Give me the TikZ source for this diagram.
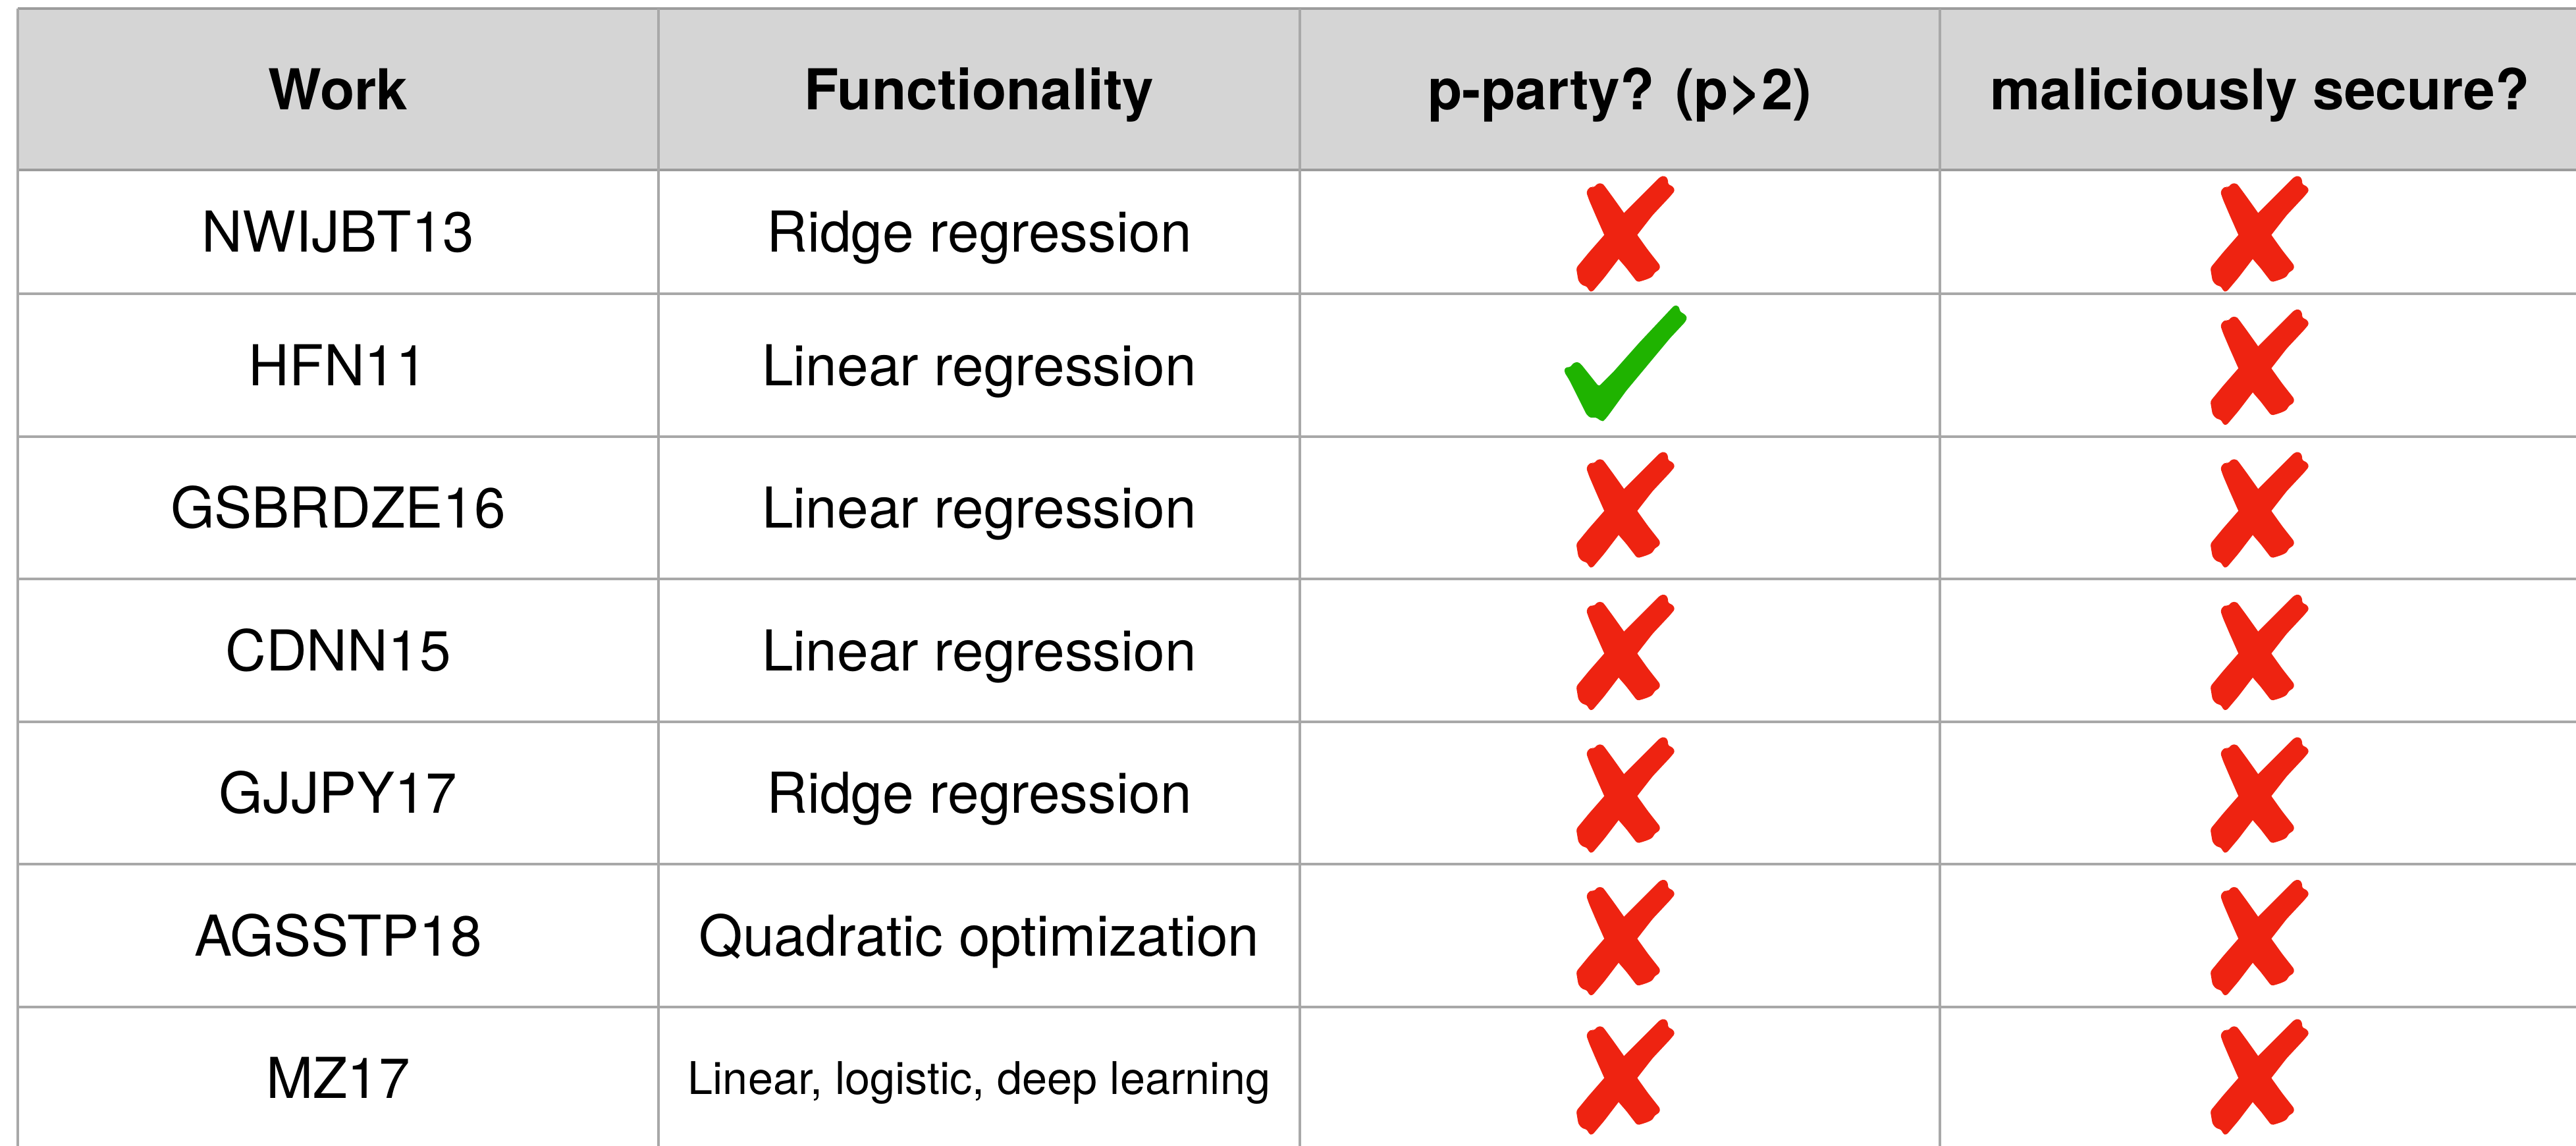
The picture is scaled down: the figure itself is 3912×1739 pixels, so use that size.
\documentclass[tikz,border=0pt]{standalone}
\usepackage{fontspec}
\setmainfont{TeX Gyre Heros}

\definecolor{gridline}{HTML}{A8A8A8}
\definecolor{headline}{HTML}{9C9C9C}
\definecolor{headfill}{HTML}{D5D5D5}
\definecolor{crossred}{HTML}{EE2311}
\definecolor{tickgreen}{HTML}{1FB300}

\tikzset{
  cell/.style={inner sep=0pt, text height=15.3pt, text depth=0pt,
    font=\fontsize{21.4pt}{24pt}\selectfont},
  headcell/.style={cell, font=\fontsize{21.4pt}{24pt}\selectfont\bfseries},
  smallcell/.style={inner sep=0pt, text height=12.25pt, text depth=0pt,
    font=\fontsize{17.1pt}{20pt}\selectfont},
  rule/.style={draw=gridline, line width=0.8pt},
  % hand-painted red cross, two brush strokes
  redx/.pic={
    \fill[crossred, rounded corners=0.8pt]
      (58.3,-83.7) -- (65,-85.3) -- (70,-80.3) -- (70,-72) -- (77.3,-69.3)
      -- (80.7,-62.7) -- (73.3,-53.7) -- (46.7,-25.3) -- (23.3,4.7)
      -- (-5,41.3) -- (-26.7,69.7) -- (-45,91.3) -- (-50,89.7) -- (-52.7,83)
      -- (-60,81.3) -- (-66,74.7) -- (-68.3,61.3) -- (-69.3,54.7)
      -- (-50,31.3) -- (-26.7,4.7) -- (3.3,-28.7) -- (33.3,-58.7) -- cycle;
    \fill[crossred, rounded corners=0.8pt]
      (-54,-60.3) -- (-50,-67) -- (-45,-68.7) -- (-42.7,-67) -- (-36.7,-73.7)
      -- (-30,-73.7) -- (-26.7,-70.3) -- (-13.3,-52) -- (3.3,-28.7)
      -- (23.3,4.7) -- (40,28) -- (58.3,51.3) -- (56.7,58) -- (50,61.3)
      -- (46.7,68) -- (40,71.3) -- (30,74.7) -- (23.3,76.3) -- (6.7,54.7)
      -- (-5,41.3) -- (-26.7,4.7) -- (-40,-25.3) -- (-50,-48.7) -- cycle;
  },
  % hand-painted green tick
  greentick/.pic={
    \fill[tickgreen, rounded corners=0.8pt]
      (-86.7,3.8) -- (-76.7,2.2) -- (-75,-2.8) -- (-66.7,-5.2) -- (-61.7,-1.2)
      -- (-35,32.2) -- (-13.3,10.5) -- (26.7,-34.5) -- (80,-91.2)
      -- (86.7,-89.5) -- (88.3,-81.2) -- (95,-77.8) -- (99.3,-72.8)
      -- (96.7,-66.2) -- (73.3,-41.2) -- (40,-1.2) -- (6.7,38.8)
      -- (-20,75.5) -- (-26.7,83.8) -- (-30,85.5) -- (-35,82.2)
      -- (-40,78.8) -- (-46.7,80.5) -- (-53.3,75.5) -- (-60,62.2)
      -- (-70,42.2) -- (-80,22.2) -- (-87.3,10.5) -- cycle;
  }
}

\begin{document}
\begin{tikzpicture}[x=0.25pt, y=-0.25pt]
  \useasboundingbox (0,0) rectangle (3912,1739);
  \clip (0,0) rectangle (3912,1739);

  % header band
  \fill[headfill] (27,13) rectangle (3930,258);

  % horizontal rules
  \draw[rule, draw=headline] (27,13) -- (3930,13);
  \draw[rule, draw=headline] (27,258) -- (3930,258);
  \foreach \y in {446,663,879,1096,1312,1529}
    \draw[rule] (27,\y) -- (3930,\y);

  % vertical rules
  \foreach \x in {27,1000,1974,2946}
    \draw[rule] (\x,13) -- (\x,1760);

  % header
  \node[headcell] (hWork) at (513.5,135.5) {Work};
  \node[headcell] (hFunc) at (1487,135.5) {Functionality};
  \node[headcell] (hParty) at (2460,135.5) {p-party? (p>2)};
  \node[headcell] (hMal) at (3432,135.5) {maliciously secure?};

  % first column
  \node[cell] (w1) at (513.5,352) {NWIJBT13};
  \node[cell] (w2) at (513.5,554.5) {HFN11};
  \node[cell] (w3) at (513.5,771) {GSBRDZE16};
  \node[cell] (w4) at (513.5,987.5) {CDNN15};
  \node[cell] (w5) at (513.5,1204) {GJJPY17};
  \node[cell] (w6) at (513.5,1420.5) {AGSSTP18};
  \node[cell] (w7) at (513.5,1637) {MZ17};

  % second column
  \node[cell] (f1) at (1487,352) {Ridge regression};
  \node[cell] (f2) at (1487,554.5) {Linear regression};
  \node[cell] (f3) at (1487,771) {Linear regression};
  \node[cell] (f4) at (1487,987.5) {Linear regression};
  \node[cell] (f5) at (1487,1204) {Ridge regression};
  \node[cell] (f6) at (1487,1420.5) {Quadratic optimization};
  \node[smallcell] (f7) at (1487,1637) {Linear, logistic, deep learning};

  % third column
  \pic at (2463,352) {redx};
  \pic at (2463,554.5) {greentick};
  \foreach \y in {771,987.5,1204,1420.5,1632}
    \pic at (2463,\y) {redx};

  % fourth column
  \foreach \y in {352,554.5,771,987.5,1204,1420.5,1632}
    \pic at (3426,\y) {redx};
\end{tikzpicture}
\end{document}
